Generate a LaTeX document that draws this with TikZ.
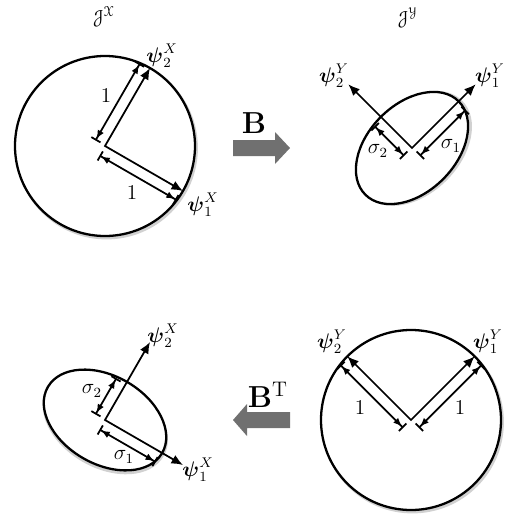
\documentclass[tikz,border=0pt]{standalone}
\usepackage{amsmath,amssymb}
\usepackage[mathscr]{eucal}
\usetikzlibrary{arrows.meta,calc}
\definecolor{bigarrow}{RGB}{112,112,112}
\begin{document}
\begin{tikzpicture}[x=0.02cm,y=0.02cm,
  outline/.style={line width=1.3pt},
  shade/.style={line width=1.6pt,black!18},
  axes/.style={line width=1pt,{Latex[length=6.5pt,width=5.5pt]}-{Latex[length=6.5pt,width=5.5pt]}},
  dimline/.style={line width=1pt,{Bar[width=6pt]Latex[length=5pt,width=4pt]}-{Latex[length=5pt,width=4pt]Bar[width=6pt]}},
  lab/.style={inner sep=0pt,font=\fontsize{11.5}{13}\selectfont},
  block/.style={fill=bigarrow,draw=none}]
\useasboundingbox (0,0) rectangle (515,-514);

% ---------- top left: unit circle in X ----------
\coordinate (O1) at (105,-146);
\draw[shade] ($(O1)+(1.5,-2)$) circle[radius=90];
\draw[outline,fill=white] (O1) circle[radius=90];
\coordinate (A1a) at ($(O1)+(-30:90)$);
\coordinate (A1b) at ($(O1)+(60:90)$);
\draw[axes] (A1b) -- (O1) -- (A1a);
\coordinate (D1a) at ($(O1)+(150:11)$);
\coordinate (D1b) at ($(D1a)+(60:89)$);
\draw[dimline] (D1a) -- (D1b);
\coordinate (D1c) at ($(O1)+(-120:11)$);
\coordinate (D1d) at ($(D1c)+(-30:89)$);
\draw[dimline] (D1c) -- (D1d);
\node[lab] (t1) at (104,-17) {$\mathscr{J}^{\mathscr{X}}$};
\node[lab] (p12) at (162,-56) {$\boldsymbol{\psi}_2^X$};
\node[lab] (p11) at (203,-205) {$\boldsymbol{\psi}_1^X$};
\node[lab] (u1) at (106,-96) {$1$};
\node[lab] (u2) at (132,-193) {$1$};

% ---------- B arrow ----------
\fill[block] (233,-140) -- (275,-140) -- (275,-132) -- (290,-148) -- (275,-164) -- (275,-156) -- (233,-156) -- cycle;
\node[lab] (B) at (254,-123) {\LARGE$\mathbf{B}$};

% ---------- top right: ellipse in Y ----------
\coordinate (O2) at (412,-148);
\draw[shade,rotate around={45:($(O2)+(1.5,-2)$)}] ($(O2)+(1.5,-2)$) ellipse[x radius=66,y radius=44];
\draw[outline,fill=white,rotate around={45:(O2)}] (O2) ellipse[x radius=66,y radius=44];
\coordinate (A2a) at ($(O2)+(45:90)$);
\coordinate (A2b) at ($(O2)+(135:90)$);
\draw[axes] (A2b) -- (O2) -- (A2a);
\coordinate (D2a) at ($(O2)+(-45:11)$);
\coordinate (D2b) at ($(D2a)+(45:65)$);
\draw[dimline] (D2a) -- (D2b);
\coordinate (D2c) at ($(O2)+(225:11)$);
\coordinate (D2d) at ($(D2c)+(135:42)$);
\draw[dimline] (D2c) -- (D2d);
\node[lab] (t2) at (408,-18) {$\mathscr{J}^{\mathscr{Y}}$};
\node[lab] (p22) at (334,-76) {$\boldsymbol{\psi}_2^Y$};
\node[lab] (p21) at (490,-76) {$\boldsymbol{\psi}_1^Y$};
\node[lab] (s22) at (378,-151) {$\sigma_2$};
\node[lab] (s21) at (451,-146) {$\sigma_1$};

% ---------- bottom left: ellipse in X ----------
\coordinate (O3) at (105,-420);
\draw[shade,rotate around={-30:($(O3)+(1.5,-2)$)}] ($(O3)+(1.5,-2)$) ellipse[x radius=66,y radius=44];
\draw[outline,fill=white,rotate around={-30:(O3)}] (O3) ellipse[x radius=66,y radius=44];
\coordinate (A3a) at ($(O3)+(-30:90)$);
\coordinate (A3b) at ($(O3)+(60:90)$);
\draw[axes] (A3b) -- (O3) -- (A3a);
\coordinate (D3a) at ($(O3)+(150:11)$);
\coordinate (D3b) at ($(D3a)+(60:42)$);
\draw[dimline] (D3a) -- (D3b);
\coordinate (D3c) at ($(O3)+(-120:11)$);
\coordinate (D3d) at ($(D3c)+(-30:65)$);
\draw[dimline] (D3c) -- (D3d);
\node[lab] (p32) at (163,-336) {$\boldsymbol{\psi}_2^X$};
\node[lab] (p31) at (198,-470) {$\boldsymbol{\psi}_1^X$};
\node[lab] (s32) at (92,-391) {$\sigma_2$};
\node[lab] (s31) at (124,-457) {$\sigma_1$};

% ---------- B^T arrow ----------
\fill[block] (290,-412) -- (247,-412) -- (247,-404) -- (233,-420) -- (247,-436) -- (247,-428) -- (290,-428) -- cycle;
\node[lab] (BT) at (268,-395) {\LARGE$\mathbf{B}^{\mathrm{T}}$};

% ---------- bottom right: unit circle in Y ----------
\coordinate (O4) at (411,-420);
\draw[shade] ($(O4)+(1.5,-2)$) circle[radius=90];
\draw[outline,fill=white] (O4) circle[radius=90];
\coordinate (A4a) at ($(O4)+(45:90)$);
\coordinate (A4b) at ($(O4)+(135:90)$);
\draw[axes] (A4b) -- (O4) -- (A4a);
\coordinate (D4a) at ($(O4)+(-45:11)$);
\coordinate (D4b) at ($(D4a)+(45:89)$);
\draw[dimline] (D4a) -- (D4b);
\coordinate (D4c) at ($(O4)+(225:11)$);
\coordinate (D4d) at ($(D4c)+(135:89)$);
\draw[dimline] (D4c) -- (D4d);
\node[lab] (p42) at (332,-342) {$\boldsymbol{\psi}_2^Y$};
\node[lab] (p41) at (488,-342) {$\boldsymbol{\psi}_1^Y$};
\node[lab] (u3) at (360,-408) {$1$};
\node[lab] (u4) at (460,-408) {$1$};
\end{tikzpicture}
\end{document}
